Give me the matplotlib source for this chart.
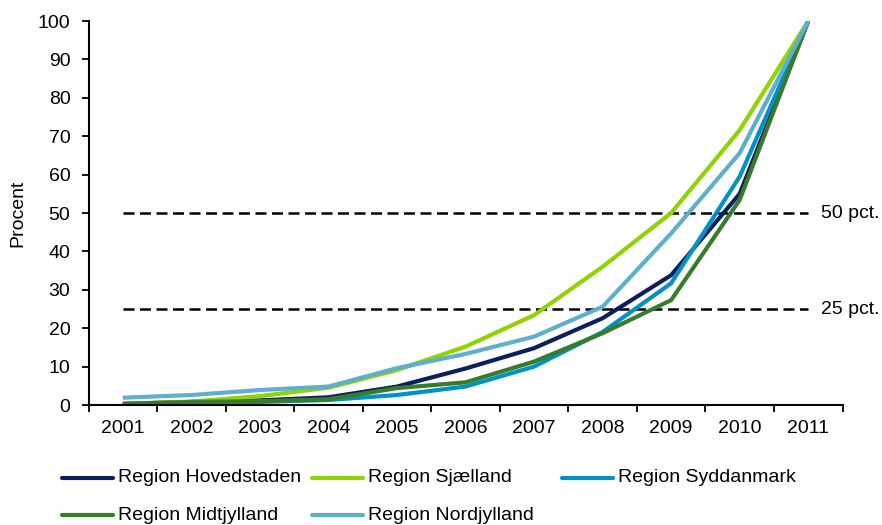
import numpy as np
import matplotlib.pyplot as plt
from matplotlib.lines import Line2D

plt.rcParams['font.family'] = ['Liberation Sans', 'DejaVu Sans']

# Data (percent, cumulative)
years = ['2001', '2002', '2003', '2004', '2005', '2006', '2007', '2008', '2009', '2010', '2011']

hovedstaden = [0.3, 0.8, 1.2, 2.0, 4.8, 9.5, 14.8, 22.6, 33.8, 55.0, 100]
sjaelland   = [0.3, 0.9, 2.3, 4.5, 9.1, 15.2, 23.4, 36.0, 50.0, 71.6, 100]
syddanmark  = [0.0, 0.3, 0.8, 1.3, 2.6, 4.8, 10.0, 19.0, 31.7, 59.5, 100]
midtjylland = [0.3, 0.8, 1.0, 1.5, 4.4, 5.9, 11.3, 18.7, 27.3, 53.4, 100]
nordjylland = [1.9, 2.6, 3.9, 4.8, 9.6, 13.3, 17.8, 25.6, 44.7, 65.6, 100]

series = [
    ('Region Hovedstaden', hovedstaden, '#0b1f5e'),
    ('Region Sjælland',    sjaelland,   '#8fd400'),
    ('Region Syddanmark',  syddanmark,  '#0091c9'),
    ('Region Midtjylland', midtjylland, '#367c2b'),
    ('Region Nordjylland', nordjylland, '#5eaecd'),
]

thresholds = [50, 25]
threshold_labels = ['50 pct.', '25 pct.']

W, H = 882, 525
fig = plt.figure(figsize=(W / 100, H / 100), dpi=100)
ax = fig.add_axes([88.5 / W, 1 - 405 / H, 754 / W, 384 / H])

x = np.arange(len(years))

for value, label in zip(thresholds, threshold_labels):
    ax.plot([x[0], x[-1]], [value, value], color='black', lw=1.8,
            dashes=(4.4, 2.2), zorder=1)
    ax.text(x[-1] + 0.19, value, label, va='center', ha='left', fontsize=14,
            clip_on=False)

for name, values, color in series:
    ax.plot(x, values, color=color, lw=3.0, label=name, solid_capstyle='butt',
            zorder=2)

ax.set_xlim(-0.5, len(years) - 0.5)
ax.set_ylim(0, 100)
ax.set_yticks(np.arange(0, 101, 10))
ax.set_xticks(x)
ax.set_xticklabels(years)
ax.set_xticks(np.arange(-0.5, len(years), 1), minor=True)
ax.tick_params(axis='x', which='major', length=0, pad=11, labelsize=14)
ax.tick_params(axis='x', which='minor', length=5, width=1.3, direction='out')
ax.tick_params(axis='y', length=5, width=1.3, direction='out', labelsize=14, pad=8)

for side in ['top', 'right']:
    ax.spines[side].set_visible(False)
for side in ['left', 'bottom']:
    ax.spines[side].set_linewidth(1.5)

ax.set_ylabel('Procent', fontsize=14, labelpad=8)

# Legend laid out in fixed-width columns, filled row by row
for i, (name, values, color) in enumerate(series):
    row, col = divmod(i, 3)
    x0 = (62 + 250 * col) / W
    y0 = 1 - (478 + 37 * row) / H
    fig.add_artist(Line2D([x0, x0 + 51 / W], [y0, y0], transform=fig.transFigure,
                          color=color, lw=3.0, solid_capstyle='round'))
    fig.text(x0 + 56 / W, y0, name, fontsize=14, va='center', ha='left')

fig.savefig('out.png', dpi=100)
